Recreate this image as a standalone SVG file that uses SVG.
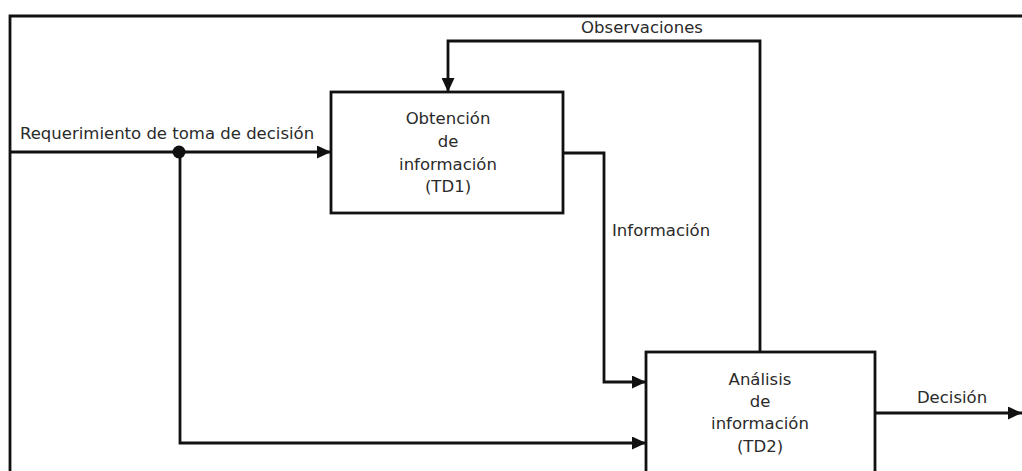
<svg xmlns="http://www.w3.org/2000/svg" width="1022" height="471" viewBox="0 0 1022 471">
  <style>
    .ln { fill: none; stroke: #111; stroke-width: 2.8; stroke-linejoin: miter; }
    .box { fill: #fff; stroke: #111; stroke-width: 2.8; }
    .t { font-family: "DejaVu Sans", "Liberation Sans", sans-serif; font-size: 16.5px; fill: #2a2a2a; }
    .c { text-anchor: middle; }
  </style>
  <defs>
    <marker id="arr" viewBox="0 0 14 13" refX="14" refY="6.5" markerWidth="14" markerHeight="13" markerUnits="userSpaceOnUse" orient="auto">
      <path d="M0,0 L14,6.5 L0,13 Z" fill="#111"/>
    </marker>
  </defs>
  <rect width="1022" height="471" fill="#fff"/>
  <g id="frame">
    <path class="ln" d="M10,480 L10,16 L1030,16"/>
  </g>
  <g id="connectors">
    <path class="ln" d="M10,152 L331,152" marker-end="url(#arr)"/>
    <path class="ln" d="M180,152 L180,443 L646,443" marker-end="url(#arr)"/>
    <circle cx="179" cy="152" r="6.5" fill="#111"/>
    <path class="ln" d="M760,352 L760,41 L448,41 L448,92" marker-end="url(#arr)"/>
    <path class="ln" d="M563,153 L604,153 L604,382 L646,382" marker-end="url(#arr)"/>
    <path class="ln" d="M875,413 L1022,413" marker-end="url(#arr)"/>
    <text class="t" x="20" y="139">Requerimiento de toma de decisión</text>
    <text class="t c" x="642" y="33">Observaciones</text>
    <text class="t" x="612" y="236">Información</text>
    <text class="t c" x="952" y="403">Decisión</text>
  </g>
  <g id="td1">
    <rect class="box" x="331" y="92" width="232" height="121"/>
    <text class="t c" x="448" y="124">Obtención</text>
    <text class="t c" x="448" y="147">de</text>
    <text class="t c" x="448" y="170">información</text>
    <text class="t c" x="448" y="192">(TD1)</text>
  </g>
  <g id="td2">
    <rect class="box" x="646" y="352" width="229" height="140"/>
    <text class="t c" x="760" y="385">Análisis</text>
    <text class="t c" x="760" y="407">de</text>
    <text class="t c" x="760" y="429">información</text>
    <text class="t c" x="760" y="452">(TD2)</text>
  </g>
</svg>
